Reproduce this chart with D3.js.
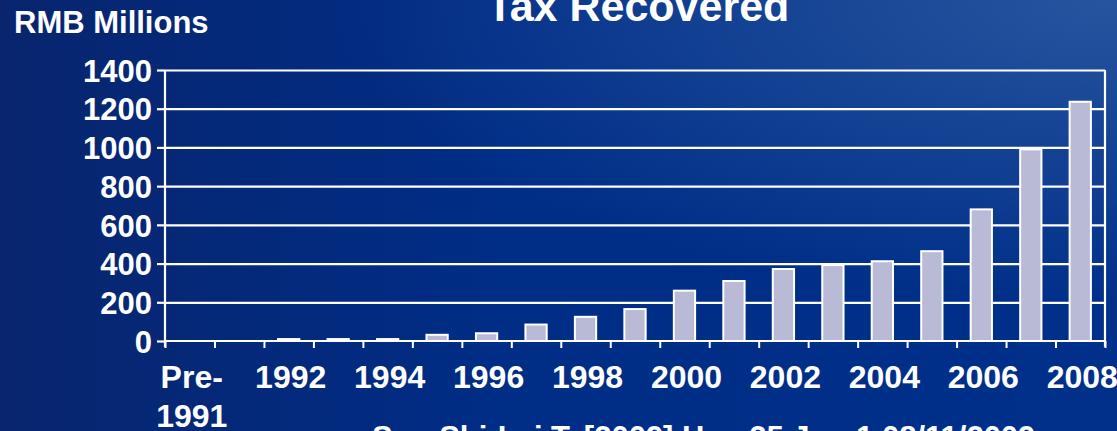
<!DOCTYPE html>
<html>
<head>
<meta charset="utf-8">
<script src="https://cdn.jsdelivr.net/npm/d3@7"></script>
<style>
  html, body { margin: 0; padding: 0; overflow: hidden; background: #00287f; }
  svg text { font-family: "Liberation Sans", Arial, Helvetica, sans-serif; font-weight: bold; fill: #fff; }
</style>
</head>
<body>
<script>
// data
const categories = ["Pre-1991", "1991", "1992", "1993", "1994", "1995", "1996", "1997", "1998", "1999",
                    "2000", "2001", "2002", "2003", "2004", "2005", "2006", "2007", "2008"];
const taxRecovered = [0, 0, 10, 10, 10, 32, 40, 85, 125, 165, 260, 310, 372, 392, 412, 464, 680, 990, 1236];
const yTicks = [0, 200, 400, 600, 800, 1000, 1200, 1400];
const xLabelShown = ["Pre-1991", "1992", "1994", "1996", "1998", "2000", "2002", "2004", "2006", "2008"];

const titleText = "Tax Recovered";
const unitText = "RMB Millions";
const sourceText = "Sun Shi-Lai T. [2009] Hua 25 Jun 1 08/11/2009";

const width = 1117;
const height = 431;
const plotLeft = 165, plotRight = 1105, plotTop = 70, plotBottom = 341;

const svg = d3.select("body").append("svg")
    .attr("width", width)
    .attr("height", height);

// background gradient
const defs = svg.append("defs");
const bg = defs.append("linearGradient").attr("id", "bg")
    .attr("x1", "0%").attr("x2", "100%").attr("y1", "0%").attr("y2", "0%");
bg.append("stop").attr("offset", "0%").style("stop-color", "#08256e");
bg.append("stop").attr("offset", "45%").style("stop-color", "#002d86");
bg.append("stop").attr("offset", "100%").style("stop-color", "#00308a");

const glow = defs.append("radialGradient").attr("id", "glow")
    .attr("cx", "100%").attr("cy", "0%").attr("r", "70%");
glow.append("stop").attr("offset", "0%").style("stop-color", "#3461a6").style("stop-opacity", 0.75);
glow.append("stop").attr("offset", "100%").style("stop-color", "#3461a6").style("stop-opacity", 0);

svg.append("rect").attr("width", width).attr("height", height).attr("fill", "url(#bg)");
svg.append("rect").attr("width", width).attr("height", height).attr("fill", "url(#glow)");

// scales
const x = d3.scaleBand()
    .domain(categories)
    .range([plotLeft, plotRight])
    .paddingInner(0.57)
    .paddingOuter(0.285);

const xEdges = d3.scaleLinear()
    .domain([0, categories.length])
    .range([plotLeft, plotRight]);

const y = d3.scaleLinear()
    .domain([0, 1400])
    .range([plotBottom, plotTop]);

// gridlines
svg.append("g")
    .attr("transform", `translate(${plotLeft},0)`)
    .call(d3.axisRight(y).tickValues(yTicks.slice(1)).tickSize(plotRight - plotLeft).tickFormat(""))
    .call(g => g.select(".domain").remove())
    .selectAll("line")
    .attr("stroke", "#fff")
    .attr("stroke-width", 2.2);

// right border of the frame
svg.append("line")
    .attr("x1", plotRight).attr("x2", plotRight)
    .attr("y1", plotTop).attr("y2", plotBottom + 6)
    .attr("stroke", "#fff")
    .attr("stroke-width", 2.2);

// bars
svg.append("g")
    .selectAll("rect")
    .data(taxRecovered)
    .join("rect")
    .attr("x", (d, i) => x(categories[i]))
    .attr("y", d => y(d))
    .attr("width", x.bandwidth())
    .attr("height", d => y(0) - y(d))
    .attr("fill", "#b9bad5")
    .attr("stroke", d => d > 0 ? "#fff" : "none")
    .attr("stroke-width", 2);

// y axis
const yAxis = svg.append("g")
    .attr("transform", `translate(${plotLeft},0)`)
    .call(d3.axisLeft(y).tickValues(yTicks).tickSize(8).tickPadding(5).tickFormat(d3.format("d")));
yAxis.select(".domain").remove();
yAxis.selectAll("line").attr("stroke", "#fff").attr("stroke-width", 2.2);
yAxis.selectAll("text")
    .style("font-size", "31px")
    .attr("fill", "#fff")
    .attr("dy", "0.36em");
svg.append("line")
    .attr("x1", plotLeft).attr("x2", plotLeft)
    .attr("y1", plotTop).attr("y2", plotBottom + 6)
    .attr("stroke", "#fff")
    .attr("stroke-width", 2.2);

// x axis: tick marks between categories
const xTicks = svg.append("g")
    .attr("transform", `translate(0,${plotBottom})`)
    .call(d3.axisBottom(xEdges).tickValues(d3.range(categories.length + 1)).tickSize(7).tickFormat(""));
xTicks.select(".domain").remove();
xTicks.selectAll("line").attr("stroke", "#fff").attr("stroke-width", 2);
svg.append("line")
    .attr("x1", plotLeft).attr("x2", plotRight)
    .attr("y1", plotBottom).attr("y2", plotBottom)
    .attr("stroke", "#fff")
    .attr("stroke-width", 2.2);

// x axis labels, every other year
const xLab = svg.append("g")
    .attr("transform", `translate(0,${plotBottom})`)
    .call(d3.axisBottom(x).tickValues(xLabelShown).tickSize(0).tickPadding(0).tickFormat(""));
xLab.select(".domain").remove();
xLab.selectAll(".tick").each(function(d) {
    const parts = d.startsWith("Pre-") ? ["Pre-", d.slice(4)] : [d];
    const t = d3.select(this).append("text")
        .attr("text-anchor", "middle")
        .style("font-size", "32px");
    parts.forEach((p, k) => {
        t.append("tspan").attr("x", 2).attr("y", 47 + k * 39).text(p);
    });
});

// titles
svg.append("text")
    .attr("x", (plotLeft + plotRight) / 2 + 3)
    .attr("y", 21)
    .attr("text-anchor", "middle")
    .style("font-size", "43px")
    .text(titleText);

svg.append("text")
    .attr("x", 14)
    .attr("y", 33)
    .style("font-size", "31px")
    .text(unitText);

svg.append("text")
    .attr("x", 372)
    .attr("y", 448)
    .style("font-size", "31px")
    .text(sourceText);
</script>
</body>
</html>
